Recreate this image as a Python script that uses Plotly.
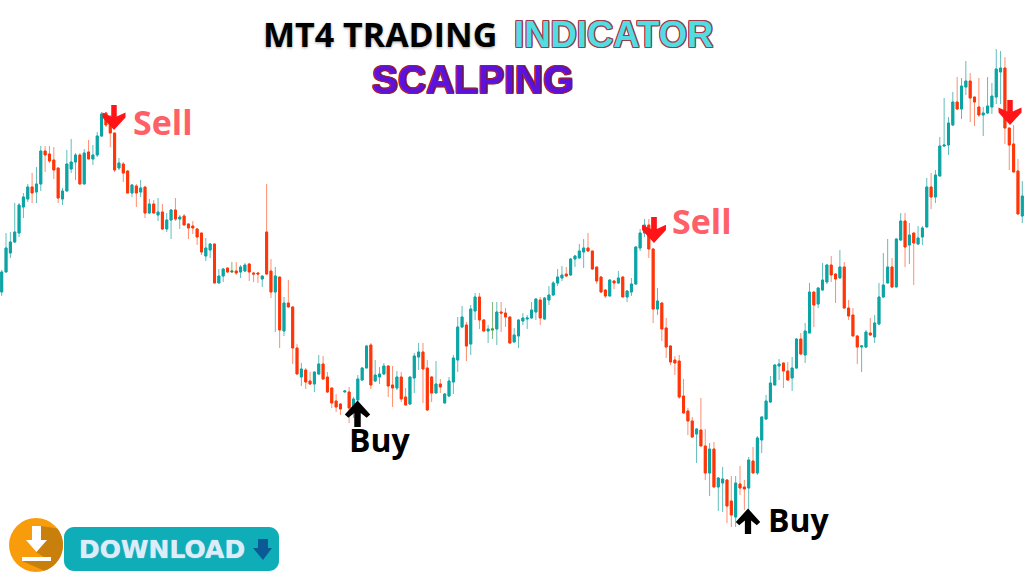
import numpy as np
import plotly.graph_objects as go

open_ = [284,304,323,334,343,369,377,389,384,392,
425,422,416,408,377,385,407,414,421,392,
424,417,421,440,463,456,443,408,412,405,
383,390,384,389,363,372,361,364,347,356,
366,357,360,352,350,347,343,320,326,332,
293,300,308,304,305,304,305,312,303,303,
297,344,305,284,299,245,273,269,228,199,
206,195,192,202,212,199,188,175,172,184,
184,169,176,196,208,231,195,199,202,210,
191,188,199,179,172,198,219,224,208,199,
183,192,173,180,194,216,249,251,232,265,
279,256,245,246,247,264,263,259,234,240,
255,257,258,264,276,257,276,281,293,298,
302,301,317,318,324,328,325,309,299,286,
280,295,293,299,279,284,292,328,343,351,
327,267,273,248,230,216,215,180,165,155,
142,146,130,103,127,89,93,96,75,59,
92,89,88,115,103,136,157,174,191,210,
213,205,198,208,237,221,243,284,272,286,
294,311,302,298,309,268,261,240,229,229,
243,239,252,279,293,309,289,336,355,331,
343,332,339,349,389,379,400,430,431,451,
474,467,489,495,479,469,461,463,469,479,
504,508,448,432,405,360]

close = [304,328,334,344,371,379,389,383,392,425,
421,415,406,378,385,412,414,421,392,423,
417,421,440,462,451,443,406,413,403,383,
391,383,388,363,372,363,364,347,356,366,
357,359,351,348,348,339,324,328,332,293,
300,307,304,305,303,309,311,304,302,302,
300,302,284,300,246,273,269,228,202,207,
194,192,204,212,197,184,173,169,167,185,
168,177,197,208,230,191,201,202,210,190,
188,199,177,171,199,220,224,207,166,183,
192,189,182,195,218,249,259,230,267,279,
256,245,247,247,264,263,259,233,241,256,
258,258,266,277,258,278,281,293,299,301,
300,317,320,325,328,325,307,295,284,280,
296,293,298,279,285,292,329,343,351,327,
267,275,247,229,214,213,179,163,155,139,
147,130,103,127,89,98,97,70,61,93,
88,87,116,103,138,159,175,193,211,212,
205,196,208,237,222,245,284,271,288,296,
311,301,297,309,268,260,240,229,230,244,
241,253,279,291,309,289,337,355,329,341,
333,338,348,389,379,401,430,431,453,474,
467,490,495,478,474,461,463,470,480,507,
508,448,431,404,362,380]

high = [306,343,344,373,373,383,392,403,409,430,
430,430,429,408,388,426,437,423,423,427,
436,431,444,464,464,461,443,418,414,406,
392,392,396,389,377,376,378,372,363,367,
378,361,362,353,355,348,343,338,333,332,
307,308,308,314,314,311,313,313,304,304,
300,392,317,309,299,279,296,270,232,213,
208,204,204,221,220,204,188,182,173,185,
189,179,201,209,231,233,216,209,213,211,
210,205,204,188,199,223,233,233,216,200,
215,197,183,199,221,259,270,254,271,283,
283,257,251,274,274,274,268,259,248,257,
263,261,274,278,279,279,290,295,307,310,
309,318,321,332,337,343,325,309,300,287,
297,296,305,300,286,298,330,347,357,357,
328,288,274,258,231,220,221,197,168,159,
148,178,147,133,134,99,109,97,100,100,
110,96,119,129,140,160,181,200,212,217,
213,214,219,238,243,253,293,284,289,313,
312,320,303,326,314,276,268,241,231,246,
258,261,293,323,337,318,338,363,363,353,
343,350,350,398,403,406,439,478,459,484,
499,498,515,503,479,498,469,499,493,527,
525,519,448,451,417,395]

low = [280,304,318,333,339,358,374,373,373,385,
404,413,397,373,371,385,403,396,392,392,
417,411,419,439,449,429,404,406,394,383,
379,369,379,358,362,362,355,346,344,337,
355,347,351,337,342,331,321,315,318,293,
293,294,303,303,301,298,304,295,294,293,
289,301,278,244,228,240,269,212,202,190,
187,191,184,201,196,183,168,164,161,184,
153,158,173,195,208,187,194,192,201,179,
169,186,174,171,171,183,206,173,165,174,
183,183,173,179,182,204,248,215,221,256,
247,244,233,237,231,244,249,232,234,228,
251,247,257,256,251,256,271,280,290,295,
299,300,309,318,308,324,306,292,283,278,
280,287,292,279,274,280,291,325,339,318,
253,261,235,218,211,201,177,163,141,138,
113,130,96,80,89,65,64,53,49,49,
81,66,66,103,101,123,156,173,191,196,
188,195,185,207,221,213,243,249,268,285,
292,294,273,297,267,256,240,212,204,228,
240,233,251,278,293,288,289,335,309,312,
291,331,331,349,367,373,400,429,421,450,
466,457,481,454,450,459,440,462,462,472,
472,432,406,404,362,353]

green_candles = [53, 113]
title_black = "MT4 TRADING"
title_cyan = "INDICATOR"
title_purple = "SCALPING"
sell_label = "Sell"
buy_label = "Buy"
download_label = "DOWNLOAD"

assert len(open_) == len(close) == len(high) == len(low) == 236

W, H = 1024, 576
TEAL, RED, GREEN = "#0aa5a5", "#ff3508", "#3f9a3a"
TEAL_WICK, RED_WICK, GREEN_WICK = "#62bcbc", "#ff8d6e", "#7dbb78"

o, c, hi, lo = map(np.array, (open_, close, high, low))
xs = np.arange(len(o))
normal = np.array([i not in green_candles for i in xs])
green = ~normal


def candles(mask, up, down, up_w, down_w, bodies_only=False):
    t_hi = np.maximum(o, c) if bodies_only else hi
    t_lo = np.minimum(o, c) if bodies_only else lo
    return go.Candlestick(
        x=xs[mask], open=o[mask], high=t_hi[mask], low=t_lo[mask], close=c[mask],
        increasing=dict(line=dict(color=up_w, width=1), fillcolor=up),
        decreasing=dict(line=dict(color=down_w, width=1), fillcolor=down),
        whiskerwidth=0, hoverinfo="skip", showlegend=False,
    )


fig = go.Figure()
fig.add_trace(candles(normal, TEAL, RED, TEAL_WICK, RED_WICK))
fig.add_trace(candles(normal, TEAL, RED, TEAL, RED, bodies_only=True))
fig.add_trace(candles(green, GREEN, GREEN, GREEN_WICK, GREEN_WICK))
fig.add_trace(candles(green, GREEN, GREEN, GREEN, GREEN, bodies_only=True))


def px(x):
    return x / W


def py(y):
    return 1 - y / H


def path(points, close_path=True):
    s = "M " + " L ".join(f"{px(a):.5f},{py(b):.5f}" for a, b in points)
    return s + (" Z" if close_path else "")


def poly(points, color):
    return dict(type="path", xref="paper", yref="paper", path=path(points),
                fillcolor=color, line=dict(width=0), layer="above")


def down_arrow(cx, top, s, color):
    pts = [(-.11, 0), (.11, 0), (.11, .46), (.46, .30), (.46, .50), (0, 1),
           (-.46, .50), (-.46, .30), (-.11, .46)]
    return poly([(cx + a * s, top + b * s) for a, b in pts], color)


def up_arrow(cx, bottom, s, color):
    pts = [(-.12, 0), (.12, 0), (.12, .52), (.34, .34), (.47, .46), (0, .98),
           (-.47, .46), (-.34, .34), (-.12, .52)]
    return poly([(cx + a * s, bottom - b * s) for a, b in pts], color)


def round_rect(x0, y0, x1, y1, r, color):
    pts = []
    for cx, cy, a0 in ((x1 - r, y0 + r, -90), (x1 - r, y1 - r, 0), (x0 + r, y1 - r, 90), (x0 + r, y0 + r, 180)):
        for a in np.radians(np.linspace(a0, a0 + 90, 9)):
            pts.append((cx + r * np.cos(a), cy + r * np.sin(a)))
    return poly(pts, color)


cx0, cy0, r0 = 36, 545, 27
arc = [(cx0 + r0 * np.cos(a), cy0 + r0 * np.sin(a)) for a in np.radians(np.linspace(-38, 72, 16))]
shapes = [
    down_arrow(114, 105, 25, "#ff1418"),
    down_arrow(654, 217, 26, "#ff1418"),
    down_arrow(1010, 100, 25, "#ff1418"),
    up_arrow(357.5, 427, 27, "#000000"),
    up_arrow(748, 534, 26, "#000000"),
    dict(type="circle", xref="paper", yref="paper", x0=px(cx0 - r0), x1=px(cx0 + r0),
         y0=py(cy0 + r0), y1=py(cy0 - r0), fillcolor="#f89c0c", line=dict(width=0), layer="above"),
    poly([(41, 526)] + arc + [(22, 561), (50, 561), (36, 552)], "#c97f0c"),
    poly([(32, 526), (41, 526), (41, 540), (47, 540), (36.5, 552), (26, 540), (32, 540)], "#ffffff"),
    poly([(22, 557), (51, 557), (51, 561), (22, 561)], "#ffffff"),
    round_rect(64, 527, 279, 571, 10, "#0fadb8"),
    poly([(258, 539), (268, 539), (268, 548), (272, 548), (263, 560), (253, 548), (258, 548)], "#0a5a96"),
]


def outline(color, d=1):
    parts = [f"{a}px {b}px 0 {color}" for a, b in ((d, 0), (-d, 0), (0, d), (0, -d), (d, d), (-d, -d), (d, -d), (-d, d))]
    return ", ".join(parts)


def label(text, x, y, size, color, family="Open Sans", shadow=None):
    font = dict(family=family, size=size, color=color)
    if shadow:
        font["shadow"] = shadow
    return dict(text=f"<b>{text}</b>", xref="paper", yref="paper", x=px(x), y=py(y),
                xanchor="center", yanchor="middle", showarrow=False, font=font)


annotations = [
    label(title_black, 380, 34, 34, "#000000", shadow="0 1px 3px rgba(0,0,0,0.35)"),
    label(title_cyan, 613, 34, 36.5, "#52dde2", "Liberation Sans", outline("#a03a48")),
    label(title_purple, 473, 79, 39, "#5a12dc", "Liberation Sans", outline("#9a2030")),
    label(sell_label, 163, 122, 34, "#ff5f66"),
    label(sell_label, 702, 221, 34, "#ff5f66"),
    label(buy_label, 380, 439, 32, "#000000"),
    label(buy_label, 799, 519, 32, "#000000"),
    label(download_label, 162, 549, 25, "#dcecf8", "DejaVu Sans", "0 0 1px #dcecf8"),
]

fig.update_layout(
    width=W, height=H, autosize=False,
    margin=dict(l=0, r=0, t=0, b=0),
    paper_bgcolor="#ffffff", plot_bgcolor="#ffffff",
    boxgap=0.35, boxmode="overlay",
    shapes=shapes, annotations=annotations, showlegend=False,
    xaxis=dict(range=[-0.39, 235.39], visible=False, rangeslider=dict(visible=False), fixedrange=True),
    yaxis=dict(range=[0, H], visible=False, fixedrange=True),
)
fig.write_html("out.html", config=dict(displayModeBar=False),
               post_script="document.body.style.margin='0';")
